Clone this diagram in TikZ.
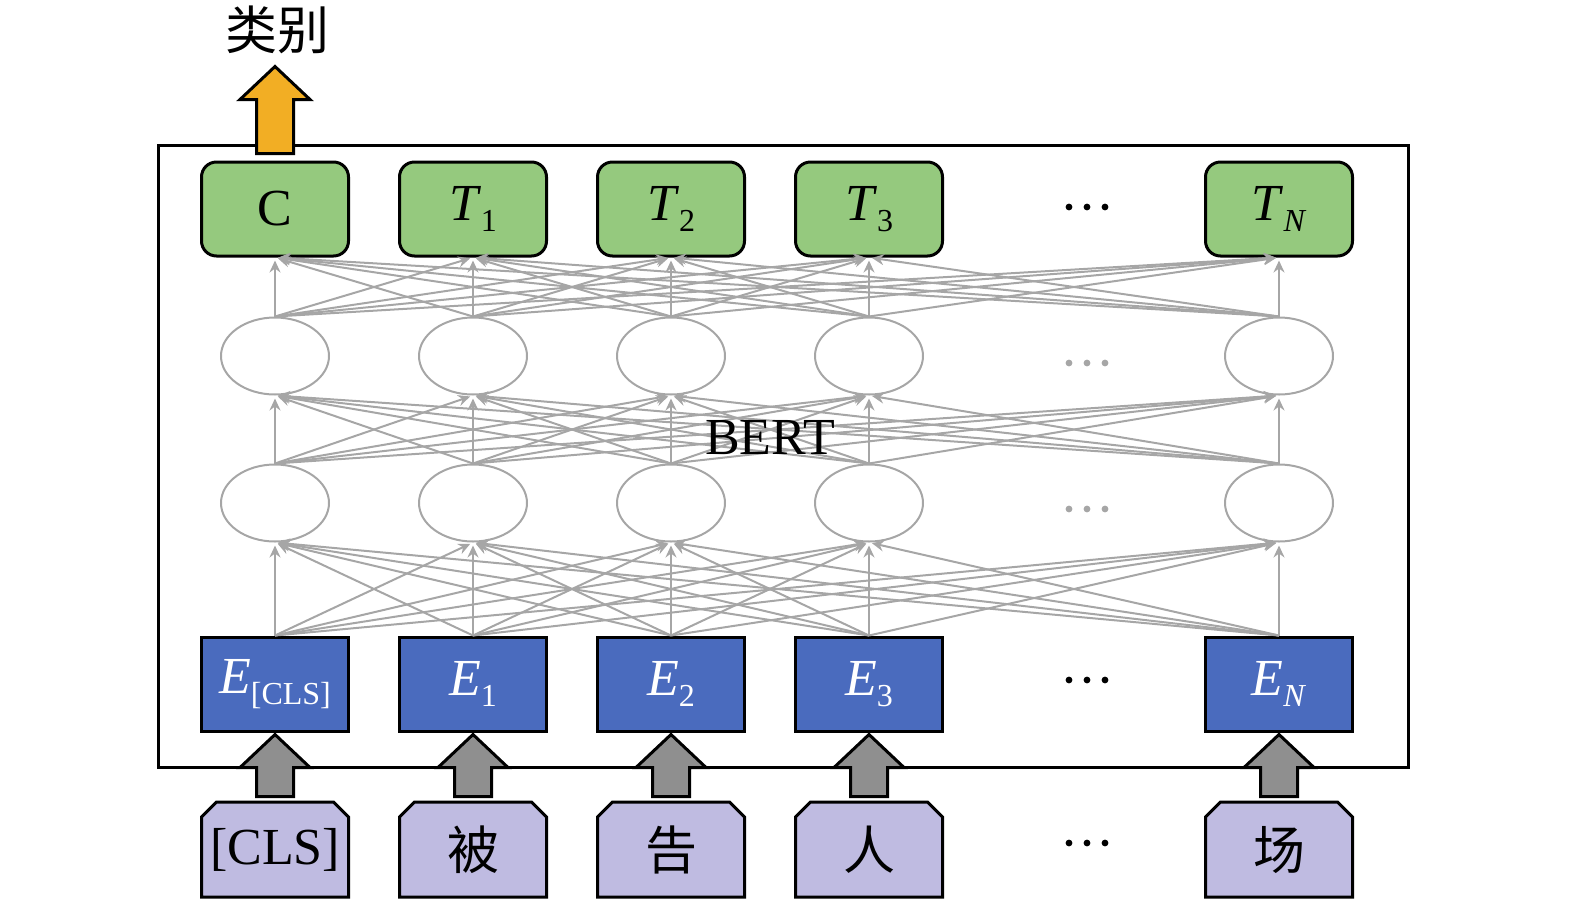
\documentclass[tikz,border=0pt]{standalone}
\usepackage{fontspec}
\setmainfont{Liberation Serif}
\newfontfamily\cjk{Noto Sans CJK SC}
\usetikzlibrary{shapes.geometric,arrows.meta}
\definecolor{outgreen}{RGB}{149,201,126}
\definecolor{embblue}{RGB}{74,107,190}
\definecolor{wordlilac}{RGB}{191,187,225}
\definecolor{linegray}{RGB}{166,166,166}
\definecolor{pipegray}{RGB}{143,143,143}
\definecolor{clsorange}{RGB}{242,174,36}
\newcommand\tok[2]{\textit{#1}\raisebox{-0.45ex}{\fontsize{16}{16}\selectfont #2}}
\begin{document}
\begin{tikzpicture}[
    x=0.5pt, y=-0.5pt,
    box/.style={draw=black, line width=1.5pt, minimum width=73.5pt, minimum height=47pt,
      inner sep=0pt, font=\fontsize{26}{28}\selectfont},
    outbox/.style={box, rounded corners=7.5pt, fill=outgreen},
    embbox/.style={box, fill=embblue, text=white},
    wordbox/.style={box, draw=none},
    hidden/.style={ellipse, draw=linegray, line width=1pt, minimum width=54pt,
      minimum height=38.5pt, inner sep=0pt},
    link/.style={draw=linegray, line width=1pt, shorten >=1.5pt,
      -{Stealth[length=6pt,width=5.5pt,inset=2pt]}},
    pipe/.style={draw=black, line width=1.5pt, line join=miter}
  ]
  \useasboundingbox (0,0) rectangle (1575,906);
  \draw[line width=1.5pt] (158,145) rectangle (1408,767);
  % layers, one column at a time
  \foreach \x/\i/\tl/\el/\wl in {
      275/1/C/{\tok{E}{[CLS]}}/[CLS],
      473/2/{\tok{T}{1}}/{\tok{E}{1}}/{\cjk 被},
      671/3/{\tok{T}{2}}/{\tok{E}{2}}/{\cjk 告},
      869/4/{\tok{T}{3}}/{\tok{E}{3}}/{\cjk 人},
      1279/5/{\tok{T}{\textit{N}}}/{\tok{E}{\textit{N}}}/{\cjk 场}} {
    \node[outbox] (t\i) at (\x,209) {\tl};
    \node[hidden] (a\i) at (\x,356) {};
    \node[hidden] (b\i) at (\x,503) {};
    \node[embbox] (e\i) at (\x,684) {\el};
    \draw[pipe, fill=wordlilac] (\x-73.5,897) -- (\x-73.5,817) -- (\x-58.5,802)
      -- (\x+58.5,802) -- (\x+73.5,817) -- (\x+73.5,897) -- cycle;
    \node[wordbox] (w\i) at (\x,850) {\wl};
  }
  \foreach \lo/\hi in {e/b,b/a,a/t}
    \foreach \i in {1,...,5}
      \foreach \j in {1,...,5}
        \draw[link] (\lo\i.north) -- (\hi\j.south);
  % input arrows
  \foreach \i in {1,...,5}
    \draw[pipe, fill=pipegray, shift={(e\i.south)}]
      (0,2) -- (35,35) -- (18.5,35) -- (18.5,64) -- (-18.5,64) -- (-18.5,35) -- (-35,35) -- cycle;
  % output arrow
  \draw[pipe, fill=clsorange, shift={(t1.north)}]
    (0,-94) -- (35,-61) -- (18.5,-61) -- (18.5,-7) -- (-18.5,-7) -- (-18.5,-61) -- (-35,-61) -- cycle;
  \node[font=\fontsize{26}{28}\selectfont] (cls) at (277,30) {\cjk 类别};
  \node[font=\fontsize{26}{28}\selectfont] (bert) at (770,438) {BERT};
  % ellipsis dots
  \foreach \y/\c in {207/black,363/linegray,509/linegray,680/black,843/black}
    \foreach \dx in {-18,0,18}
      \fill[\c] (1087+\dx,\y) circle (3.4);
\end{tikzpicture}
\end{document}
